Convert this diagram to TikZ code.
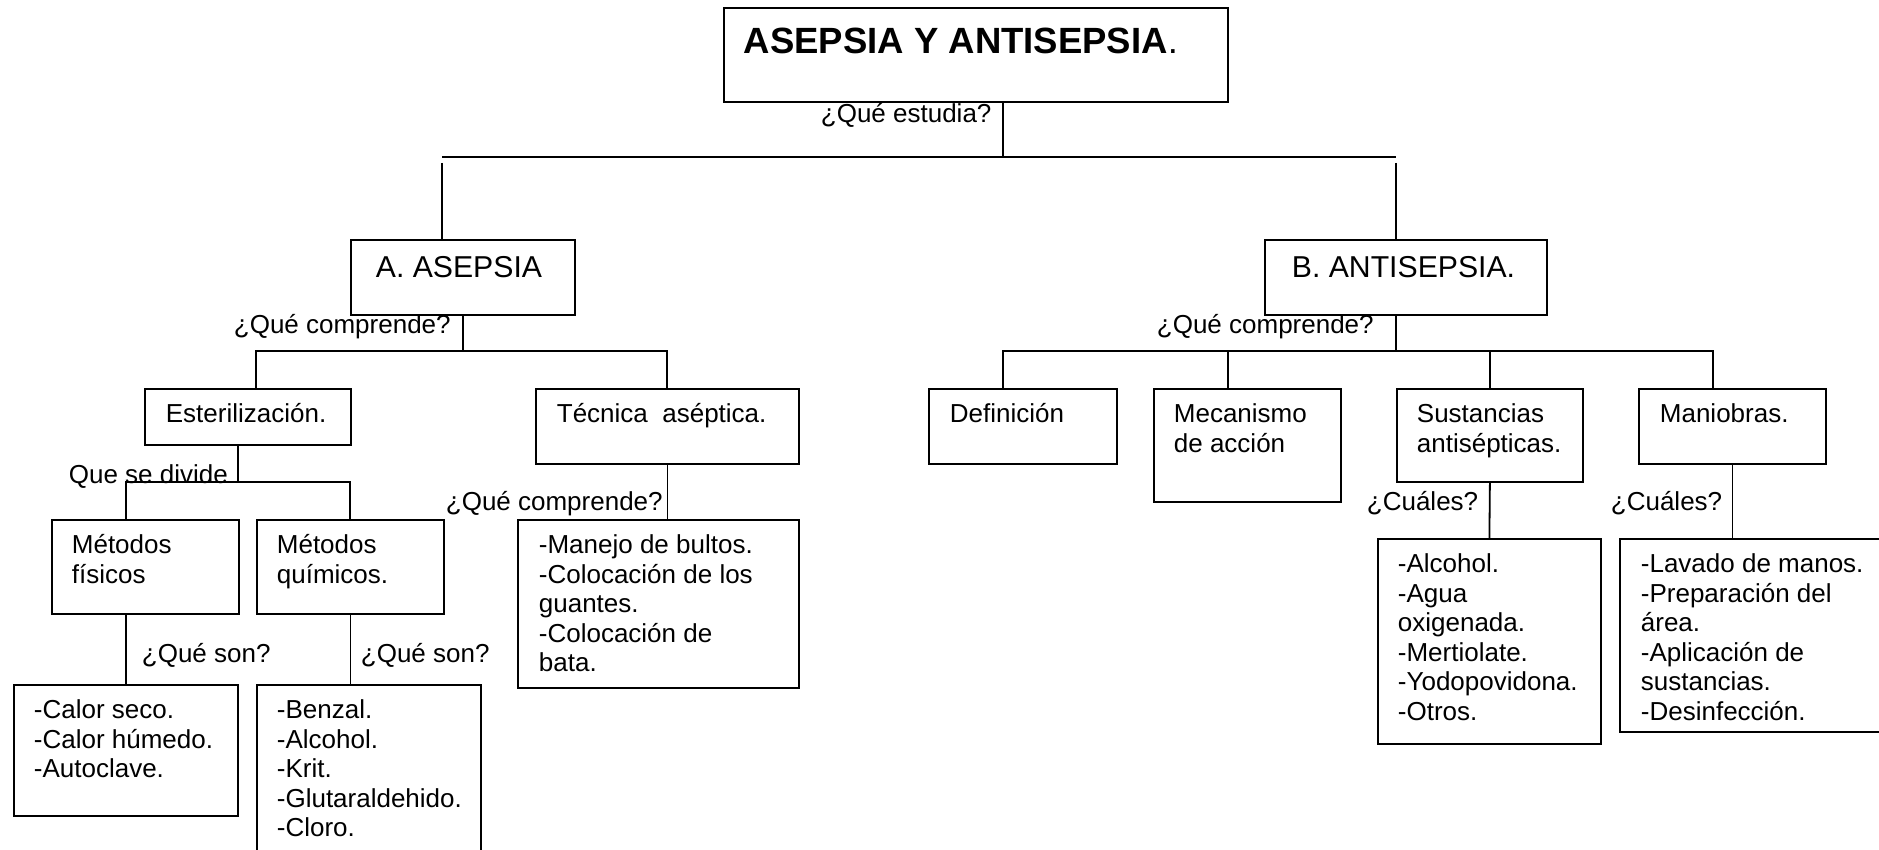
\documentclass[tikz,border=0pt]{standalone}
\usepackage{fontspec}
\setmainfont{Liberation Sans}

\newcommand{\cuerpo}{\fontsize{26}{29.5}\selectfont}
\newcommand{\rama}{\fontsize{30.2}{35}\selectfont}
\newcommand{\titular}{\fontsize{36.5}{42}\selectfont\bfseries}

\tikzset{
    caja/.style={
        rectangle, draw=black,
        anchor=north west,
        inner sep=0pt,
    },
    tam/.style 2 args={
        minimum width=#1pt, minimum height=#2pt,
    },
    texto/.style={
        anchor=north west, inner sep=0pt,
        align=left, font=\cuerpo,
    },
    pregunta/.style={
        anchor=base west, inner sep=0pt, font=\cuerpo,
    },
}

\begin{document}
\begin{tikzpicture}[x=1pt, y=-1pt, line width=1.8pt]
\clip (0,0) rectangle (1879,850);

% Cajas
\node[caja, tam={504}{94}] (titulo) at (723,7) {};
\node[caja, tam={224}{75}] (asepsia) at (350,239) {};
\node[caja, tam={282}{75}] (antisepsia) at (1264,239) {};

\node[caja, tam={206}{56}] (ester) at (144,388) {};
\node[caja, tam={263}{75}] (tecnica) at (535,388) {};
\node[caja, tam={187}{94}] (fisicos) at (51,519) {};
\node[caja, tam={187}{94}] (quimicos) at (256,519) {};
\node[caja, tam={224}{131}] (calor) at (13,684) {};
\node[caja, tam={224}{186}] (benzal) at (256,684) {};
\node[caja, tam={281}{168}] (manejo) at (517,519) {};

\node[caja, tam={188}{75}] (definicion) at (928,388) {};
\node[caja, tam={187}{113}] (mecanismo) at (1153,388) {};
\node[caja, tam={186}{93}] (sustancias) at (1396,388) {};
\node[caja, tam={187}{75}] (maniobras) at (1638,388) {};
\node[caja, tam={223}{205}] (alcohol) at (1377,538) {};
\node[caja, tam={276}{193}] (lavado) at (1619,538) {};

% Textos de las cajas
\node[anchor=base west, inner sep=0pt, font=\titular] (titulo-t)
    at ([shift={(20,47)}]titulo.north west) {ASEPSIA Y ANTISEPSIA{\mdseries.}};
\node[anchor=base west, inner sep=0pt, font=\rama] (asepsia-t)
    at ([shift={(25,39)}]asepsia.north west) {A. ASEPSIA};
\node[anchor=base west, inner sep=0pt, font=\rama] (antisepsia-t)
    at ([shift={(27,39)}]antisepsia.north west) {B. ANTISEPSIA.};

\node[texto] (ester-t) at ([shift={(21,13)}]ester.north west) {\strut Esterilización.};
\node[texto] (tecnica-t) at ([shift={(21,13)}]tecnica.north west) {\strut Técnica\ \ aséptica.};
\node[texto] (fisicos-t) at ([shift={(20,13)}]fisicos.north west) {\strut Métodos\\físicos};
\node[texto] (quimicos-t) at ([shift={(20,13)}]quimicos.north west) {\strut Métodos\\químicos.};
\node[texto] (calor-t) at ([shift={(20,13)}]calor.north west)
    {\strut -Calor seco.\\-Calor húmedo.\\-Autoclave.};
\node[texto] (benzal-t) at ([shift={(20,13)}]benzal.north west)
    {\strut -Benzal.\\-Alcohol.\\-Krit.\\-Glutaraldehido.\\-Cloro.};
\node[texto] (manejo-t) at ([shift={(21,13)}]manejo.north west)
    {\strut -Manejo de bultos.\\-Colocación de los\\guantes.\\-Colocación de\\bata.};

\node[texto] (definicion-t) at ([shift={(21,13)}]definicion.north west) {\strut Definición};
\node[texto] (mecanismo-t) at ([shift={(20,13)}]mecanismo.north west) {\strut Mecanismo\\de acción};
\node[texto] (sustancias-t) at ([shift={(20,13)}]sustancias.north west) {\strut Sustancias\\antisépticas.};
\node[texto] (maniobras-t) at ([shift={(21,13)}]maniobras.north west) {\strut Maniobras.};
\node[texto] (alcohol-t) at ([shift={(20,13)}]alcohol.north west)
    {\strut -Alcohol.\\-Agua\\oxigenada.\\-Mertiolate.\\-Yodopovidona.\\-Otros.};
\node[texto] (lavado-t) at ([shift={(21,13)}]lavado.north west)
    {\strut -Lavado de manos.\\-Preparación del\\área.\\-Aplicación de\\sustancias.\\-Desinfección.};

% Preguntas
\node[pregunta] (q-estudia) at (820,123) {¿Qué estudia?};
\node[pregunta] (q-compA) at (233,333) {¿Qué comprende?};
\node[pregunta] (q-compB) at (1156,333) {¿Qué comprende?};
\node[pregunta] (q-divide) at (68,483) {Que se divide};
\node[pregunta] (q-son1) at (141,662) {¿Qué son?};
\node[pregunta] (q-son2) at (360,662) {¿Qué son?};
\node[pregunta] (q-compT) at (445,510) {¿Qué comprende?};
\node[pregunta] (q-cual1) at (1366,510) {¿Cuáles?};
\node[pregunta] (q-cual2) at (1610,510) {¿Cuáles?};

% Puntos de las lineas
\coordinate (cTit) at (1003,157);
\coordinate (bifA) at (442,157);
\coordinate (bifB) at (1396,157);
\coordinate (hA1) at (256,351);
\coordinate (hA2) at (667,351);
\coordinate (cE) at (238,482);
\coordinate (hE1) at (126,482);
\coordinate (hE2) at (350,482);
\coordinate (hB1) at (1003,351);
\coordinate (hB2) at (1228,351);
\coordinate (hB4) at (1713,351);

% Lineas
\draw (titulo.south -| cTit) -- (cTit);
\draw (bifA) -- (bifB);
\draw ([yshift=-6pt]bifA) -- (asepsia.north -| bifA);
\draw ([yshift=-6pt]bifB) -- (antisepsia.north -| bifB);

\draw (asepsia.south) -- (asepsia.south |- hA1);
\draw (ester.north -| hA1) -- (hA1) -- (hA2) -- (tecnica.north -| hA2);
\draw (ester.south -| cE) -- (cE);
\draw (fisicos.north -| hE1) -- (hE1) -- (hE2) -- (quimicos.north -| hE2);
\draw (fisicos.south -| calor.north) -- (calor.north);
\draw (quimicos.south) -- (quimicos.south |- benzal.north);
\draw (tecnica.south) -- (tecnica.south |- manejo.north);

\draw (antisepsia.south -| bifB) -- (hB1 -| bifB);
\draw (definicion.north -| hB1) -- (hB1) -- (hB4) -- (maniobras.north -| hB4);
\draw (mecanismo.north -| hB2) -- (hB2);
\draw (sustancias.north) -- (sustancias.north |- hB1);
\draw (sustancias.south) -- (alcohol.north);
\draw (maniobras.south) -- (maniobras.south |- lavado.north);

\end{tikzpicture}
\end{document}
